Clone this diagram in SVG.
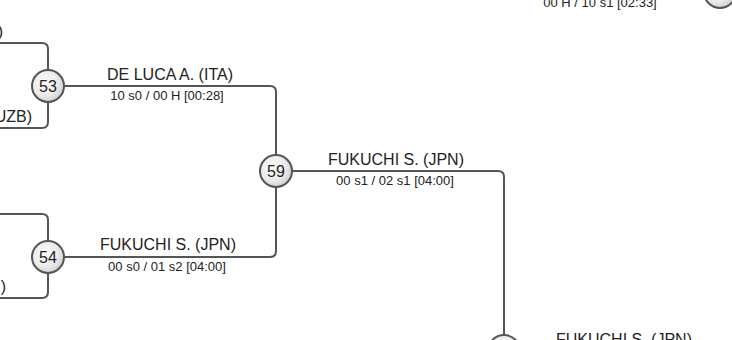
<svg xmlns="http://www.w3.org/2000/svg" width="732" height="340" viewBox="0 0 732 340">
<style>
.ln{fill:none;stroke:#555;stroke-width:2}
.nd{fill:url(#g);stroke:#555;stroke-width:2}
.num{font-family:"Liberation Sans",Arial,sans-serif;font-size:16px;fill:#222;text-anchor:middle}
.nm{font-family:"Liberation Sans",Arial,sans-serif;font-size:16px;fill:#222;text-anchor:middle}
.sc{font-family:"Liberation Sans",Arial,sans-serif;font-size:13px;fill:#222;text-anchor:middle}
.e{text-anchor:end}
</style>
<defs>
<radialGradient id="g" cx="0.4" cy="0.4" r="0.65">
<stop offset="0" stop-color="#fbfbfb"/>
<stop offset="0.6" stop-color="#ececec"/>
<stop offset="1" stop-color="#cdcdcd"/>
</radialGradient>
</defs>
<rect width="732" height="340" fill="#fff"/>
<g id="connectors">
<path class="ln" d="M-10 43H42Q48 43 48 49V70"/>
<path class="ln" d="M48 102V122Q48 128 42 128H-10"/>
<path class="ln" d="M64 86H270Q276 86 276 92V155"/>
<path class="ln" d="M-10 214H42Q48 214 48 220V241"/>
<path class="ln" d="M48 273V292Q48 298 42 298H-10"/>
<path class="ln" d="M64 257H270Q276 257 276 251V187"/>
<path class="ln" d="M292 171H498Q504 171 504 177V335"/>
</g>
<g id="labels">
<text class="nm e" x="3" y="37">)</text>
<text class="nm e" x="32" y="122">UZB)</text>
<text class="nm e" x="6" y="292">)</text>
<text class="nm" x="170" y="80">DE LUCA A. (ITA)</text>
<text class="sc" x="167" y="100">10 s0 / 00 H [00:28]</text>
<text class="nm" x="168" y="250">FUKUCHI S. (JPN)</text>
<text class="sc" x="167" y="271">00 s0 / 01 s2 [04:00]</text>
<text class="nm" x="396" y="165">FUKUCHI S. (JPN)</text>
<text class="sc" x="395" y="185">00 s1 / 02 s1 [04:00]</text>
<text class="nm" x="624" y="345">FUKUCHI S. (JPN)</text>
<text class="sc" x="600" y="7">00 H / 10 s1 [02:33]</text>
</g>
<g id="n53"><circle class="nd" cx="48" cy="86" r="16"/><text class="num" x="48" y="91.5">53</text></g>
<g id="n54"><circle class="nd" cx="48" cy="257" r="16"/><text class="num" x="48" y="262.5">54</text></g>
<g id="n59"><circle class="nd" cx="276" cy="171" r="16"/><text class="num" x="276" y="176.5">59</text></g>
<g id="nbottom"><circle class="nd" cx="504" cy="351" r="16"/></g>
<g id="ntop"><circle class="nd" cx="720" cy="-8" r="16"/></g>
</svg>
